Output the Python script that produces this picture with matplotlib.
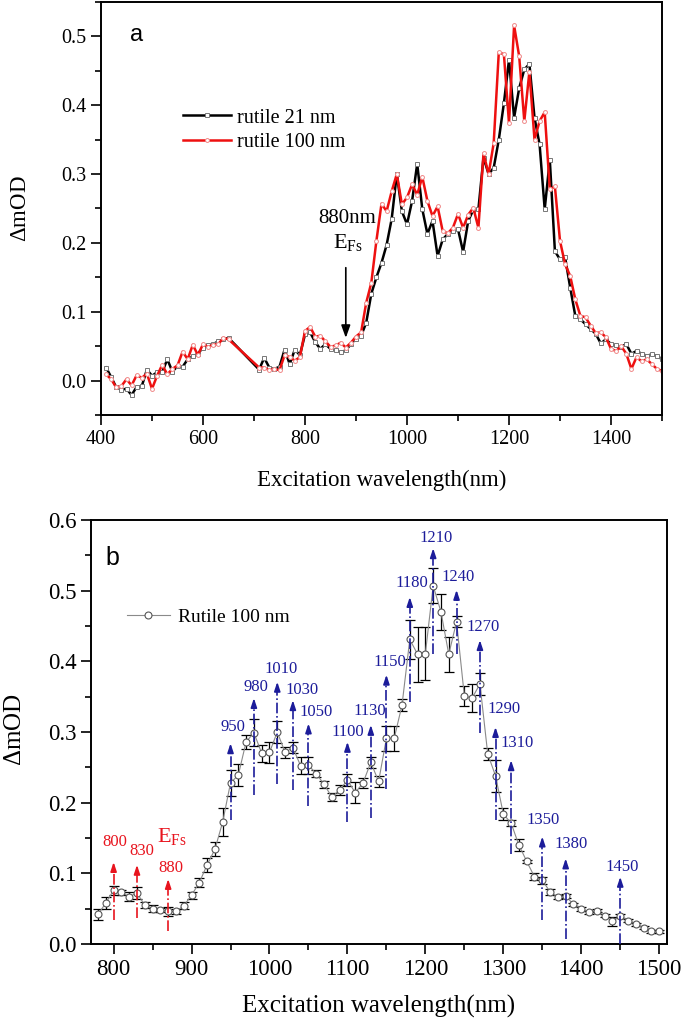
import numpy as np
import matplotlib
matplotlib.use('Agg')
import matplotlib.pyplot as plt
from matplotlib.ticker import MultipleLocator

plt.rcParams['font.family'] = 'Liberation Serif'
plt.rcParams['mathtext.fontset'] = 'custom'
plt.rcParams['mathtext.rm'] = 'Liberation Serif'
plt.rcParams['mathtext.it'] = 'Liberation Serif:italic'

# --- panel a: two rutile samples
wl_a = list(range(410, 660, 10)) + list(range(710, 1510, 10))
od_21 = [0.019, 0.005, -0.010, -0.013, -0.012, -0.021, -0.009, -0.008, 0.016, 0.007,
         0.012, 0.012, 0.031, 0.013, 0.021, 0.020, 0.031, 0.035, 0.039, 0.048,
         0.051, 0.053, 0.057, 0.060, 0.062,
         0.016, 0.033, 0.019, 0.017, 0.020, 0.045, 0.024, 0.045, 0.037,
         0.067, 0.070, 0.056, 0.046, 0.053, 0.046, 0.044, 0.041, 0.044, 0.053,
         0.061, 0.065, 0.084, 0.126, 0.150, 0.171, 0.197, 0.235, 0.300, 0.246,
         0.227, 0.261, 0.315, 0.249, 0.213, 0.232, 0.181, 0.205, 0.213, 0.217,
         0.220, 0.187, 0.232, 0.248, 0.249, 0.324, 0.300, 0.309, 0.350, 0.403,
         0.466, 0.382, 0.425, 0.452, 0.460, 0.382, 0.343, 0.249, 0.321, 0.188,
         0.176, 0.179, 0.135, 0.094, 0.089, 0.082, 0.075, 0.068, 0.054, 0.060,
         0.053, 0.051, 0.049, 0.053, 0.039, 0.043, 0.039, 0.036, 0.038, 0.036,
         0.031]
od_100 = [0.009, 0.002, -0.010, -0.008, 0.002, -0.007, 0.008, 0.004, 0.010, -0.012,
          0.007, 0.023, 0.009, 0.017, 0.022, 0.042, 0.031, 0.052, 0.037, 0.053,
          0.049, 0.052, 0.053, 0.062, 0.060,
          0.019, 0.019, 0.015, 0.017, 0.015, 0.037, 0.034, 0.029, 0.034,
          0.072, 0.078, 0.064, 0.065, 0.057, 0.049, 0.051, 0.055, 0.048, 0.055,
          0.064, 0.070, 0.113, 0.142, 0.203, 0.257, 0.246, 0.275, 0.300, 0.256,
          0.266, 0.285, 0.270, 0.296, 0.261, 0.239, 0.253, 0.217, 0.214, 0.222,
          0.242, 0.222, 0.241, 0.251, 0.222, 0.330, 0.300, 0.345, 0.477, 0.474,
          0.374, 0.516, 0.471, 0.377, 0.449, 0.350, 0.377, 0.390, 0.278, 0.282,
          0.203, 0.169, 0.152, 0.118, 0.094, 0.092, 0.080, 0.069, 0.070, 0.063,
          0.046, 0.043, 0.050, 0.039, 0.017, 0.034, 0.028, 0.031, 0.024, 0.017,
          0.014]

# --- panel b: rutile 100 nm with error bars
wl_b = list(range(780, 1510, 10))
od_b = [0.042, 0.058,
        0.076, 0.073, 0.067, 0.072, 0.055, 0.050, 0.048, 0.046, 0.046, 0.054,
        0.069, 0.087, 0.112, 0.134, 0.173, 0.228, 0.239, 0.286, 0.299, 0.270,
        0.271, 0.300, 0.271, 0.278, 0.252, 0.253, 0.241, 0.226, 0.208, 0.218,
        0.232, 0.214, 0.228, 0.257, 0.230, 0.291, 0.291, 0.338, 0.431, 0.410,
        0.411, 0.507, 0.470, 0.410, 0.456, 0.351, 0.348, 0.368, 0.269, 0.238,
        0.184, 0.171, 0.140, 0.117, 0.095, 0.090, 0.074, 0.066, 0.068, 0.056,
        0.050, 0.045, 0.047, 0.040, 0.032, 0.040, 0.033, 0.028, 0.023, 0.018,
        0.018]
err_b = [0.008, 0.008,
         0.006, 0.004, 0.006, 0.008, 0.004, 0.005, 0.003, 0.006, 0.003, 0.005,
         0.005, 0.006, 0.010, 0.010, 0.020, 0.018, 0.016, 0.010, 0.019, 0.012,
         0.015, 0.015, 0.008, 0.008, 0.012, 0.012, 0.005, 0.005, 0.005, 0.007,
         0.008, 0.015, 0.007, 0.008, 0.008, 0.018, 0.018, 0.008, 0.028, 0.039,
         0.038, 0.025, 0.025, 0.025, 0.008, 0.014, 0.020, 0.015, 0.008, 0.023,
         0.008, 0.004, 0.008, 0.002, 0.005, 0.005, 0.004, 0.003, 0.003, 0.002,
         0.003, 0.002, 0.002, 0.002, 0.006, 0.003, 0.002, 0.002, 0.002, 0.002,
         0.002]

# peak markers in panel b
peak_labels = ['800', '830', '880', '950', '980', '1010', '1030', '1050', '1100', '1130',
               '1150', '1180', '1210', '1240', '1270', '1290', '1310', '1350', '1380', '1450']
arrow_x = [800, 830, 870, 950, 980, 1010, 1030, 1050, 1100, 1130,
           1150, 1180, 1210, 1240, 1270, 1290, 1310, 1350, 1380, 1450]
arrow_lo = [0.034, 0.037, 0.018, 0.175, 0.211, 0.227, 0.218, 0.195, 0.173, 0.178,
            0.220, 0.343, 0.410, 0.411, 0.298, 0.175, 0.128, 0.034, 0.007, 0.0]
arrow_hi = [0.116, 0.112, 0.092, 0.284, 0.348, 0.371, 0.345, 0.312, 0.286, 0.310,
            0.381, 0.491, 0.560, 0.501, 0.430, 0.307, 0.260, 0.152, 0.121, 0.095]
label_x = [801, 836, 873, 953, 983, 1015, 1042, 1060, 1100, 1129,
           1155, 1183, 1214, 1242, 1274, 1301, 1318, 1351, 1387, 1452]
label_y = [0.145, 0.132, 0.107, 0.307, 0.363, 0.389, 0.360, 0.329, 0.300, 0.330,
           0.399, 0.511, 0.574, 0.520, 0.448, 0.333, 0.284, 0.175, 0.142, 0.109]

RED = '#e8141e'
BLUE = '#1c1c9a'

fig = plt.figure(figsize=(6.85, 10.31), dpi=100)
ax_a = fig.add_axes([101 / 685, 1 - 415 / 1031, 561 / 685, 413 / 1031])
ax_b = fig.add_axes([91 / 685, 1 - 944 / 1031, 576 / 685, 424 / 1031])

# --- panel a
ax_a.plot(wl_a, od_21, '-s', color='black', lw=1.8, ms=2.6, mfc='white', mec='#777777',
          mew=0.7, label='rutile 21 nm')
ax_a.plot(wl_a, od_100, '-o', color='#ee1010', lw=1.8, ms=2.8, mfc='white', mec='#f08888',
          mew=0.7, label='rutile 100 nm')
ax_a.set_xlim(400, 1500)
ax_a.set_ylim(-0.05, 0.55)
ax_a.xaxis.set_major_locator(MultipleLocator(200))
ax_a.xaxis.set_minor_locator(MultipleLocator(100))
ax_a.yaxis.set_major_locator(MultipleLocator(0.1))
ax_a.yaxis.set_minor_locator(MultipleLocator(0.05))
ax_a.yaxis.set_major_formatter(plt.FuncFormatter(lambda v, p: f'{v:.1f}'))
ax_a.legend(loc='center left', bbox_to_anchor=(0.146, 0.69), frameon=False, fontsize=14.5,
            handlelength=2.4, handletextpad=0.3, borderpad=0, borderaxespad=0,
            labelspacing=0.25, numpoints=1)
ax_a.text(0.052, 0.92, 'a', transform=ax_a.transAxes, family='Liberation Sans',
          fontsize=17, ha='left', va='center')
ax_a.text(882, 0.236, '880nm', fontsize=15, ha='center', va='center')
ax_a.text(884, 0.201, r'E$_{\rm Fs}$', fontsize=16, ha='center', va='center')
ax_a.annotate('', xy=(880, 0.062), xytext=(880, 0.164),
              arrowprops=dict(arrowstyle='-|>,head_length=0.5,head_width=0.18',
                              color='black', lw=1.2, mutation_scale=15,
                              shrinkA=0, shrinkB=0))
ax_a.set_xlabel('Excitation wavelength(nm)', fontsize=16.5)
ax_a.set_ylabel(r'$\Delta$mOD', fontsize=16.5)
ax_a.xaxis.set_label_coords(0.5, -0.133)
ax_a.yaxis.set_label_coords(-0.125, 0.5)

# --- panel b
ax_b.errorbar(wl_b, od_b, yerr=err_b, fmt='none', ecolor='black', elinewidth=0.9,
              capsize=3.5, capthick=0.9, zorder=2)
ax_b.plot(wl_b, od_b, '-o', color='#8a8a8a', lw=0.8, ms=5, mfc='white', mec='#555555',
          mew=0.8, label='Rutile 100 nm', zorder=3)
for i, lab in enumerate(peak_labels):
    c = RED if i < 3 else BLUE
    ax_b.plot([arrow_x[i], arrow_x[i]], [arrow_lo[i], arrow_hi[i] - 0.01], ls='-.',
              color=c, lw=1.2, zorder=4)
    ax_b.annotate('', xy=(arrow_x[i], arrow_hi[i]), xytext=(arrow_x[i], arrow_hi[i] - 0.012),
                  arrowprops=dict(arrowstyle='-|>,head_length=0.45,head_width=0.15',
                                  color=c, lw=1.2, mutation_scale=12,
                                  shrinkA=0, shrinkB=0), zorder=4)
    ax_b.text(label_x[i], label_y[i], lab, color=c, fontsize=12, ha='center', va='center')
ax_b.text(875, 0.152, r'E$_{\rm Fs}$', color=RED, fontsize=16, ha='center', va='center')
ax_b.set_xlim(771, 1510)
ax_b.set_ylim(0, 0.6)
ax_b.xaxis.set_major_locator(MultipleLocator(100))
ax_b.xaxis.set_minor_locator(MultipleLocator(50))
ax_b.yaxis.set_major_locator(MultipleLocator(0.1))
ax_b.yaxis.set_minor_locator(MultipleLocator(0.05))
ax_b.yaxis.set_major_formatter(plt.FuncFormatter(lambda v, p: f'{v:.1f}'))
ax_b.legend(loc='center left', bbox_to_anchor=(0.0625, 0.771), frameon=False, fontsize=14,
            handlelength=2.2, handletextpad=0.4, borderpad=0, borderaxespad=0, numpoints=1)
ax_b.text(0.025, 0.91, 'b', transform=ax_b.transAxes, family='Liberation Sans',
          fontsize=18, ha='left', va='center')
ax_b.set_xlabel('Excitation wavelength(nm)', fontsize=18)
ax_b.set_ylabel(r'$\Delta$mOD', fontsize=18)
ax_b.xaxis.set_label_coords(0.5, -0.12)
ax_b.yaxis.set_label_coords(-0.112, 0.505)

for ax, fs in ((ax_a, 14.5), (ax_b, 16.5)):
    for s in ax.spines.values():
        s.set_linewidth(1.4)
    ax.tick_params(which='both', direction='out', top=False, right=False, width=1.2,
                   labelsize=fs)
    ax.tick_params(which='major', length=7)
    ax.tick_params(which='minor', length=4.5)

fig.savefig('out.png', dpi=100)
